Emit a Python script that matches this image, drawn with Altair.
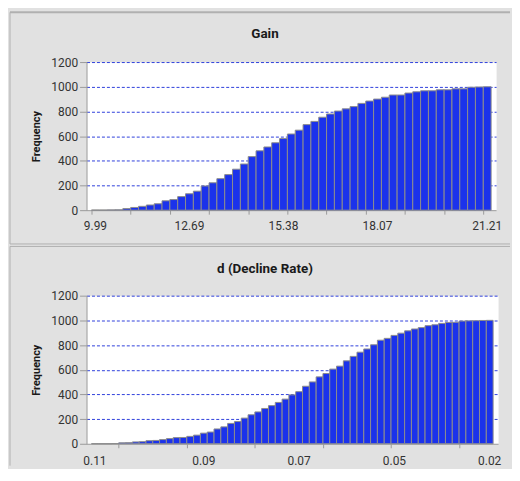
import altair as alt
import pandas as pd

# ---------------- data ----------------
gain_values = [1, 1, 2, 3, 13, 22, 31, 42, 52, 76, 86, 110, 133, 154, 196, 222,
               255, 288, 332, 374, 434, 481, 512, 546, 580, 617, 648, 693, 719,
               753, 779, 803, 821, 839, 865, 884, 900, 915, 933, 933, 949, 959,
               967, 967, 975, 975, 983, 983, 996, 998, 1000]
gain_label_idx = [0, 12, 24, 36, 50]
gain_labels = ["9.99", "12.69", "15.38", "18.07", "21.21"]
gain_tick_bounds = [0, 5, 10, 15, 20, 25, 30, 35, 40, 45, 50]

d_values = [1, 1, 1, 2, 8, 9, 15, 17, 25, 27, 34, 42, 50, 51, 60, 70, 86, 95,
            120, 137, 165, 180, 208, 235, 258, 286, 309, 335, 362, 396, 422,
            466, 501, 542, 569, 605, 629, 672, 708, 742, 768, 802, 839, 854,
            878, 896, 915, 930, 941, 957, 964, 975, 983, 984, 994, 996, 997,
            999, 1000]
d_label_idx = [0, 16, 30, 44, 58]
d_labels = ["0.11", "0.09", "0.07", "0.05", "0.02"]
d_tick_bounds = [4, 9, 14, 19, 24, 29, 34, 39, 44, 49, 54, 59]

y_ticks = [0, 200, 400, 600, 800, 1000, 1200]

# ---------------- styles ----------------
BG = "#e1e1e1"
BORDER = "#b0b0b0"
AX = "#9a9a9a"
BLUE = "#1b32eb"
EDGE = "#8c8c8c"
GRID = "#2e3fdc"
TXT = "#333333"
FONT = "Roboto"
H = 149
XR = 426


def panel(values, label_idx, labels, tick_bounds, title, width, label_dy,
          title_x, title_y, top_y, top_sw, bottom_y, left_y2):
    n = len(values)
    df = pd.DataFrame({"lo": list(range(n)),
                       "hi": [i + 1 for i in range(n)],
                       "v": values})
    lab = pd.DataFrame({"c": [i + 0.5 for i in label_idx], "t": labels})
    xscale = alt.Scale(domain=[0, n], nice=False, zero=False)

    one = alt.Data(values=[{"k": 1}])
    layers = []
    layers.append(alt.Chart(one).mark_rule(color=BORDER, strokeWidth=top_sw).encode(
        x=alt.value(-77), x2=alt.value(XR), y=alt.value(top_y)))
    layers.append(alt.Chart(one).mark_rule(color=BORDER, strokeWidth=1).encode(
        x=alt.value(-77), y=alt.value(top_y), y2=alt.value(left_y2)))
    if bottom_y is not None:
        layers.append(alt.Chart(one).mark_rule(color=BORDER, strokeWidth=1).encode(
            x=alt.value(-77), x2=alt.value(XR), y=alt.value(bottom_y)))

    bars = alt.Chart(df).mark_bar(color=BLUE, stroke=EDGE, strokeWidth=1,
                                  orient="vertical").encode(
        x=alt.X("lo:Q", scale=xscale,
                axis=alt.Axis(values=tick_bounds, labels=False, title=None,
                              grid=False, tickSize=4, tickColor=AX,
                              domainColor=AX, orient="bottom")),
        x2="hi:Q",
        y=alt.Y("v:Q", scale=alt.Scale(domain=[0, 1200], nice=False),
                axis=alt.Axis(values=y_ticks, format="d", title="Frequency",
                              titleFontWeight="bold", titleFontSize=11,
                              titleFont=FONT, titleColor="#1a1a1a",
                              titlePadding=9, tickSize=7, tickColor=AX,
                              domainColor=AX, labelPadding=2,
                              gridColor=alt.condition("datum.value === 0",
                                                      alt.value("transparent"),
                                                      alt.value(GRID)),
                              gridDash=[3, 2], gridWidth=1)),
        y2=alt.datum(0),
    )
    layers.append(bars)

    # category labels under the bars they name
    labs = alt.Chart(lab).mark_text(
        font=FONT, fontSize=12, color=TXT, align="center", baseline="middle"
    ).encode(
        x=alt.X("c:Q", scale=xscale),
        y=alt.value(H + label_dy),
        text="t:N",
    )
    layers.append(labs)

    layers.append(alt.Chart(one).mark_text(
        font=FONT, fontSize=13.5, fontWeight="bold", color="#1a1a1a",
        align="center", baseline="middle").encode(
        x=alt.value(title_x), y=alt.value(title_y), text=alt.value(title)))

    return alt.layer(*layers).properties(width=width, height=H)


top = panel(gain_values, gain_label_idx, gain_labels, gain_tick_bounds, "Gain",
            412, 16, 179.5, -28, -50, 2, H + 34, H + 34)
bottom = panel(d_values, d_label_idx, d_labels, d_tick_bounds,
               "d (Decline Rate)", 414, 17, 179.5, -26.5, -49.5, 1, None, H + 22)

chart = alt.vconcat(top, bottom, spacing=0).properties(
    padding={"left": 0, "top": 1, "right": 0, "bottom": 0}
).configure(background=BG).configure_view(
    fill="white", stroke="transparent"
).configure_axis(
    labelFont=FONT, labelFontSize=12, labelColor=TXT
)

chart.save("out.html", embed_options={"renderer": "svg", "actions": False})
